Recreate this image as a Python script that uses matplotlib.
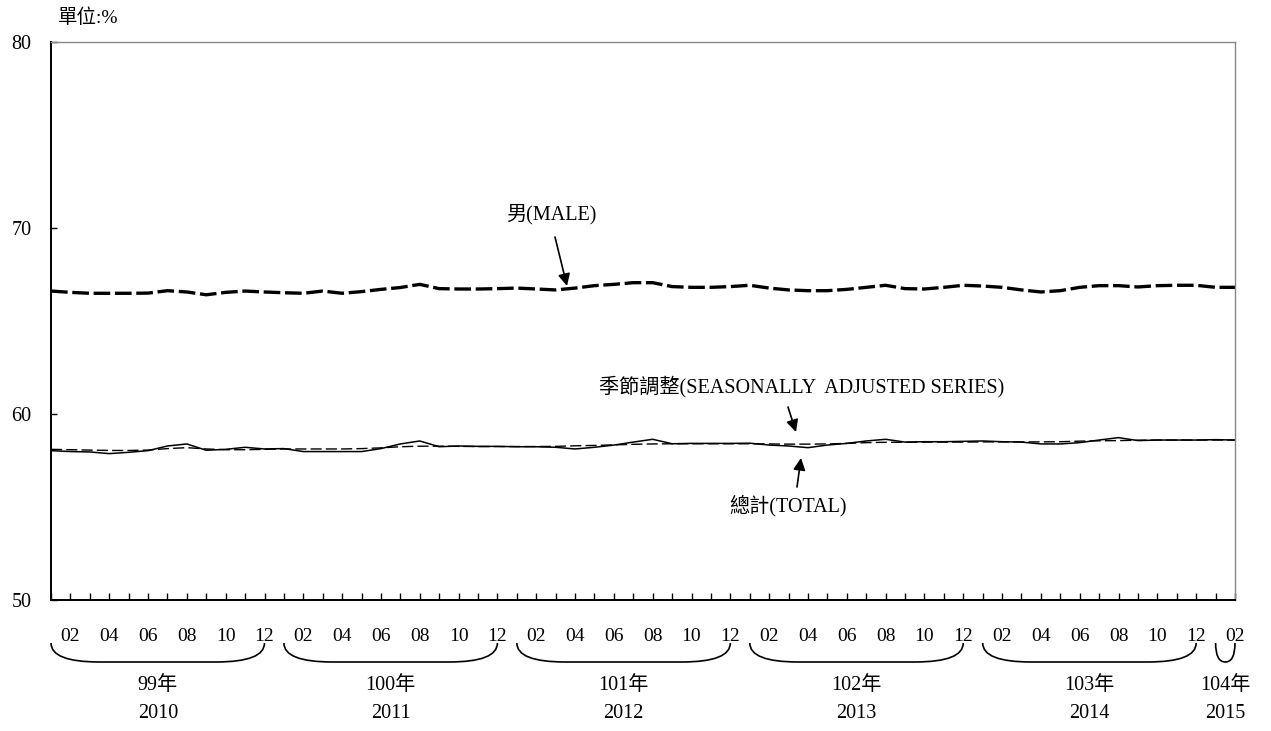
import matplotlib.pyplot as plt
import matplotlib.transforms as mtransforms
from matplotlib.path import Path
from matplotlib.patches import PathPatch
import numpy as np

# monthly series, Jan 2010 (99年) .. Feb 2015 (104年), unit: %
male = [66.61, 66.54, 66.49, 66.49, 66.49, 66.50, 66.63, 66.56, 66.41, 66.54, 66.61, 66.56,
        66.52, 66.49, 66.61, 66.49, 66.58, 66.70, 66.80, 66.97, 66.74, 66.72, 66.72, 66.74,
        66.77, 66.72, 66.67, 66.77, 66.90, 66.97, 67.06, 67.06, 66.85, 66.81, 66.81, 66.85,
        66.92, 66.77, 66.67, 66.63, 66.63, 66.70, 66.81, 66.92, 66.74, 66.72, 66.81, 66.92,
        66.88, 66.81, 66.67, 66.56, 66.63, 66.81, 66.90, 66.90, 66.83, 66.90, 66.92, 66.92,
        66.81, 66.81]
total = [58.03, 57.98, 57.96, 57.87, 57.94, 58.03, 58.28, 58.39, 58.05, 58.10, 58.21, 58.12,
         58.14, 57.98, 57.98, 57.98, 57.98, 58.14, 58.39, 58.55, 58.24, 58.28, 58.26, 58.26,
         58.24, 58.24, 58.21, 58.12, 58.21, 58.33, 58.49, 58.64, 58.40, 58.42, 58.42, 58.42,
         58.43, 58.33, 58.28, 58.19, 58.33, 58.42, 58.55, 58.64, 58.49, 58.51, 58.51, 58.53,
         58.55, 58.51, 58.49, 58.39, 58.39, 58.46, 58.60, 58.73, 58.57, 58.60, 58.60, 58.60,
         58.62, 58.60]
seasonal = [58.10, 58.08, 58.06, 58.04, 58.04, 58.06, 58.14, 58.19, 58.12, 58.08, 58.08, 58.10,
            58.12, 58.12, 58.12, 58.12, 58.14, 58.18, 58.24, 58.27, 58.27, 58.26, 58.25, 58.25,
            58.25, 58.25, 58.26, 58.29, 58.31, 58.34, 58.37, 58.39, 58.40, 58.40, 58.40, 58.40,
            58.40, 58.39, 58.38, 58.38, 58.39, 58.42, 58.46, 58.48, 58.48, 58.49, 58.49, 58.49,
            58.50, 58.50, 58.50, 58.50, 58.51, 58.54, 58.56, 58.57, 58.59, 58.60, 58.60, 58.60,
            58.60, 58.60]
years_roc = ["99年", "100年", "101年", "102年", "103年", "104年"]
years_ad = ["2010", "2011", "2012", "2013", "2014", "2015"]
y_ticks = [50, 60, 70, 80]

FONT = ["Liberation Serif", "Noto Sans CJK TC"]
plt.rcParams["font.family"] = FONT

W, H = 1271, 731
fig = plt.figure(figsize=(W / 100, H / 100), dpi=100)
ax = fig.add_axes([51 / W, 1 - 600 / H, 1184 / W, 558 / H])

x = np.arange(len(male))
ax.plot(x, male, color="black", lw=2.4, dashes=(5, 1.4))
ax.plot(x, total, color="black", lw=1.1)
ax.plot(x, seasonal, color="black", lw=1.0, dashes=(8, 3))

ax.set_xlim(0, len(male) - 1)
ax.set_ylim(50, 80)
ax.set_yticks(y_ticks)
ax.set_yticklabels([str(v) for v in y_ticks], fontsize=14.5)
ax.tick_params(axis="y", direction="in", length=4, width=1, pad=14)

labels = []
for i in x:
    m = i % 12 + 1
    labels.append(f"{m:02d}" if (m % 2 == 0) else "")
ax.set_xticks(x)
ax.set_xticklabels(labels, fontsize=14)
ax.tick_params(axis="x", direction="in", length=5, width=1, pad=20)

for s in ["left", "bottom"]:
    ax.spines[s].set_linewidth(1.4)
    ax.spines[s].set_color("black")
for s in ["top", "right"]:
    ax.spines[s].set_linewidth(1.0)
    ax.spines[s].set_color("#888888")

fig.text(58 / W, 1 - 18 / H, "單位:%", fontsize=14, va="center", ha="left")

# year brackets below the month labels
trans = mtransforms.blended_transform_factory(ax.transData, fig.transFigure)
top, bot = 1 - 643 / H, 1 - 662 / H
for k, (roc, ad) in enumerate(zip(years_roc, years_ad)):
    x0 = 12 * k
    x1 = min(12 * k + 11, len(male) - 1)
    r = min(2.5, (x1 - x0) / 2)
    verts = [(x0, top), (x0, bot), (x0 + r, bot), (x1 - r, bot), (x1, bot), (x1, top)]
    codes = [Path.MOVETO, Path.CURVE3, Path.CURVE3, Path.LINETO, Path.CURVE3, Path.CURVE3]
    ax.add_patch(PathPatch(Path(verts, codes), transform=trans, fill=False,
                           lw=1.2, color="black", clip_on=False))
    xc = (x0 + x1) / 2
    ax.text(xc, 1 - 686 / H, roc, transform=trans, ha="center", va="center", fontsize=14.5)
    ax.text(xc, 1 - 713 / H, ad, transform=trans, ha="center", va="center", fontsize=14.5)

# annotations (positions in figure pixels)
def pix(px, py):
    return (px / W, 1 - py / H)

arrow = dict(arrowstyle="-|>", color="black", lw=1.2, mutation_scale=18, shrinkA=0, shrinkB=0)
ax.annotate("", xy=pix(567, 286), xytext=pix(555, 237), xycoords="figure fraction",
            textcoords="figure fraction", arrowprops=arrow)
fig.text(*pix(551, 214), "男(MALE)", fontsize=14.5, ha="center", va="center")
ax.annotate("", xy=pix(796, 432), xytext=pix(788, 407), xycoords="figure fraction",
            textcoords="figure fraction", arrowprops=arrow)
fig.text(*pix(802, 387), "季節調整(SEASONALLY  ADJUSTED SERIES)", fontsize=14.5,
         ha="center", va="center")
ax.annotate("", xy=pix(801, 458), xytext=pix(797, 487), xycoords="figure fraction",
            textcoords="figure fraction", arrowprops=arrow)
fig.text(*pix(788, 506), "總計(TOTAL)", fontsize=14.5, ha="center", va="center")

fig.savefig("out.png", dpi=100)
